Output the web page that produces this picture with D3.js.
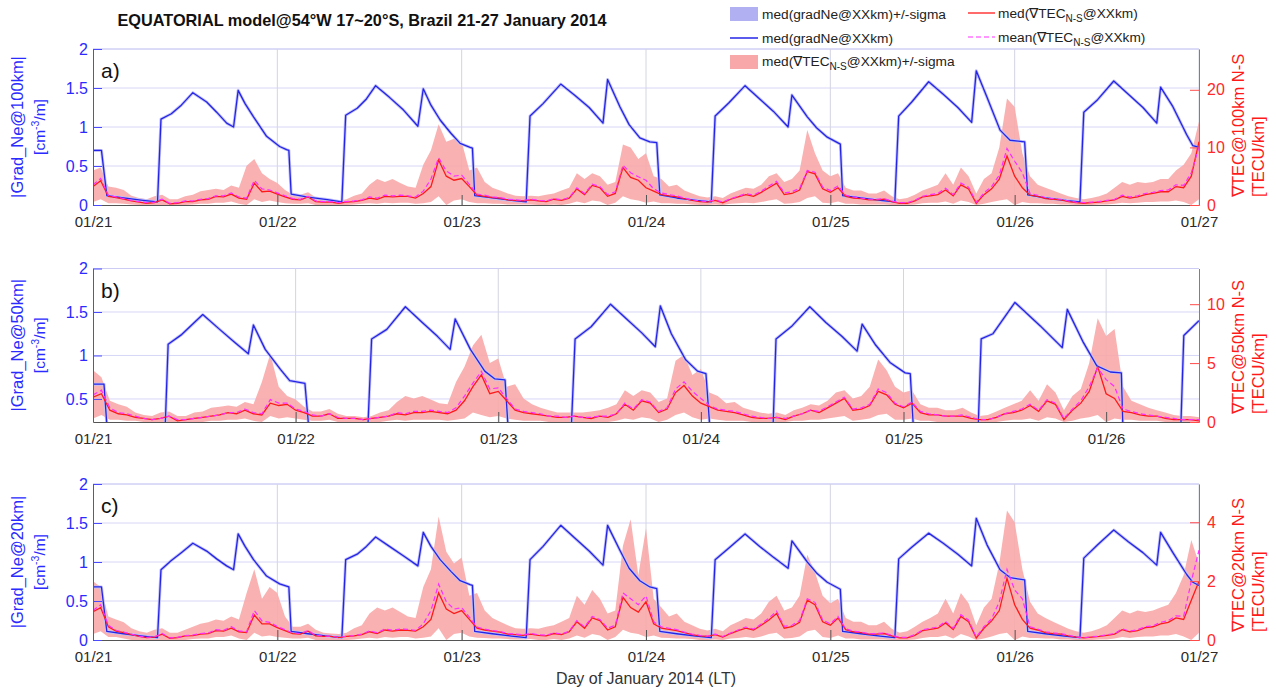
<!DOCTYPE html>
<html><head><meta charset="utf-8">
<script src="https://cdn.jsdelivr.net/npm/d3@7"></script>
<style>body{margin:0;background:#fff}svg{display:block}text{font-family:"Liberation Sans",Arial,sans-serif}</style>
</head><body><svg id="chart" width="1276" height="692"></svg>
<script>
// ---------- DATA ----------
const dayTicks = [0,24,48,72,96,120,144];           // hours since 01/21 00:00 LT
const dayLabels = ["01/21","01/22","01/23","01/24","01/25","01/26","01/27"];
const tecHoursAC = d3.range(0,145);                 // hourly samples, panels a & c
const tecHoursB = d3.range(0,132);                  // hourly samples, panel b

// median gradNe vertices [hour, value] (cm^-3/m)
const neHoursAC = [0,1.1,1.8,4,6.5,8.4,
 8.85,10.2,11.5,13.0,14.8,16.1,17.4,18.3,18.9,19.8,20.9,22.6,24.3,25.2,25.5,25.8,28,30.5,32.4,
 32.9,34.4,35.6,36.8,38.6,40.4,42.3,43.0,44.0,45.2,46.6,47.8,49.1,49.4,49.7,52,54.5,56.4,
 56.9,58.6,60.9,62.8,64.6,66.4,67.0,68.6,69.8,71.2,72.5,73.4,73.8,76,78.5,80.5,
 81.0,82.8,84.9,86.8,88.6,90.5,91.0,93.0,94.2,95.6,97.3,97.6,100,102.5,104.4,
 104.9,106.6,108.8,110.7,112.6,114.4,115.0,116.4,118.1,119.4,121.3,121.7,124,126.5,128.5,
 129.0,130.8,132.9,134.8,136.7,138.5,139.0,140.6,142.4,143.2,144];
const neValsA = [0.70,0.70,0.12,0.09,0.06,0.04,
 1.10,1.17,1.28,1.44,1.32,1.19,1.05,1.00,1.47,1.30,1.13,0.88,0.75,0.71,0.70,0.14,0.10,0.07,0.04,
 1.15,1.24,1.36,1.53,1.38,1.22,1.01,1.49,1.28,1.09,0.92,0.79,0.74,0.73,0.12,0.09,0.06,0.04,
 1.14,1.30,1.55,1.40,1.25,1.05,1.61,1.26,1.03,0.86,0.81,0.80,0.13,0.09,0.06,0.04,
 1.14,1.31,1.53,1.36,1.20,1.00,1.41,1.13,0.99,0.87,0.78,0.12,0.09,0.06,0.04,
 1.14,1.32,1.58,1.42,1.25,1.06,1.72,1.38,0.96,0.83,0.81,0.13,0.09,0.06,0.04,
 1.19,1.35,1.59,1.42,1.25,1.05,1.51,1.26,0.90,0.76,0.74];
const neValsC = [0.68,0.68,0.11,0.08,0.05,0.03,
 0.90,1.02,1.12,1.24,1.14,1.04,0.95,0.90,1.36,1.20,1.03,0.82,0.72,0.69,0.68,0.11,0.08,0.05,0.03,
 1.03,1.10,1.20,1.32,1.20,1.08,0.95,1.38,1.20,1.03,0.88,0.76,0.71,0.70,0.11,0.08,0.05,0.03,
 1.03,1.20,1.47,1.30,1.14,0.96,1.47,1.15,0.92,0.76,0.68,0.66,0.11,0.08,0.05,0.03,
 1.03,1.18,1.36,1.20,1.06,0.92,1.27,1.00,0.86,0.74,0.65,0.11,0.08,0.05,0.03,
 1.04,1.19,1.37,1.24,1.10,0.95,1.56,1.22,0.90,0.80,0.77,0.11,0.08,0.05,0.03,
 1.05,1.22,1.41,1.26,1.12,0.96,1.38,1.12,0.84,0.74,0.70];
const neHoursB = [0,1.3,1.7,4,6.5,8.5,
 8.9,10.5,13.0,15.0,16.8,18.4,19.0,20.4,22.2,23.3,25.1,25.6,28,30.5,32.5,
 33.0,34.8,37.0,39.0,40.8,42.3,42.9,44.7,46.4,47.6,48.8,49.2,52,54.5,56.6,
 57.1,59.0,61.3,63.2,65.0,66.6,67.2,68.5,70.2,71.6,72.6,73.1,76,78.5,80.5,
 80.9,82.8,84.9,86.8,88.7,90.5,91.1,92.7,94.4,96.2,96.8,97.2,100,102.5,104.8,
 105.2,106.6,109.2,112.2,114.8,115.4,117.3,118.9,120.5,121.8,122.0,124.5,127,128.8,
 129.2,131.0];
const neValsB = [0.67,0.67,0.12,0.09,0.06,0.04,
 1.13,1.24,1.47,1.30,1.15,1.02,1.35,1.07,0.84,0.71,0.68,0.12,0.09,0.06,0.04,
 1.19,1.30,1.56,1.38,1.22,1.07,1.42,1.07,0.82,0.73,0.72,0.12,0.09,0.06,0.04,
 1.19,1.33,1.59,1.42,1.26,1.10,1.57,1.25,0.95,0.82,0.79,0.12,0.09,0.06,0.04,
 1.19,1.34,1.56,1.38,1.22,1.05,1.36,1.12,0.92,0.80,0.79,0.12,0.09,0.06,0.04,
 1.19,1.25,1.61,1.34,1.09,1.53,1.15,0.88,0.81,0.80,0.12,0.09,0.06,0.04,
 1.23,1.40];

// TEC N-S gradient (TECU/km): median, mean, median+sigma, median-sigma
const tecMedA = [3.2,4.2,1.5,1.3,1.0,0.7,0.5,0.3,0.4,0.9,
 0.2,0.3,0.6,0.6,0.9,1.0,1.5,1.4,1.9,1.2,
 1.0,3.8,2.3,2.4,1.9,1.4,1.0,0.9,1.4,0.6,
 0.5,0.5,0.3,0.5,0.6,0.8,1.2,1.0,1.5,1.4,
 1.5,1.5,1.2,2.0,3.2,7.8,5.0,4.3,4.6,3.2,
 1.7,1.5,1.3,1.2,0.9,0.8,0.7,0.9,0.7,0.6,
 1.0,0.8,1.2,2.8,1.8,3.4,3.0,1.5,2.0,6.5,
 4.8,4.3,3.0,2.4,1.8,1.6,1.4,1.1,0.8,0.6,
 0.5,0.8,0.4,1.0,1.4,1.8,1.5,2.2,3.0,3.8,
 1.8,2.0,2.6,5.8,5.4,2.8,2.2,3.0,1.5,1.2,
 1.1,0.9,0.9,1.0,0.6,0.3,0.3,0.7,1.4,1.6,
 1.8,2.6,1.6,3.5,2.8,0.3,1.8,2.8,4.5,8.5,
 5.0,3.0,1.7,1.5,1.1,1.0,0.9,0.6,0.4,0.3,
 0.4,0.5,0.7,0.9,1.5,1.2,1.4,1.8,2.0,2.3,
 2.3,3.2,3.0,5.0,11.0];
const tecMeanA = [3.5,4.6,1.7,1.4,1.1,0.8,0.6,0.4,0.5,1.0,
 0.3,0.4,0.7,0.7,1.0,1.1,1.6,1.6,2.1,1.4,
 1.2,4.3,2.8,2.6,2.1,1.6,1.1,1.0,1.5,0.7,
 0.6,0.6,0.4,0.6,0.7,0.9,1.4,1.2,1.7,1.6,
 1.7,1.6,1.4,2.4,4.5,8.2,5.9,5.0,5.2,3.6,
 1.9,1.7,1.4,1.3,1.0,0.9,0.8,1.0,0.8,0.7,
 1.1,0.9,1.3,3.0,2.0,3.6,3.2,1.8,2.3,6.9,
 5.6,4.9,4.3,2.8,2.1,1.8,1.6,1.2,0.9,0.7,
 0.6,0.9,0.5,1.1,1.5,2.0,1.7,2.4,3.3,4.1,
 2.1,2.3,2.9,6.0,5.7,3.1,2.5,3.3,1.7,1.4,
 1.2,1.0,1.0,1.1,0.7,0.4,0.4,0.8,1.5,1.8,
 2.0,2.9,1.8,3.8,3.1,0.5,2.1,3.2,5.2,9.8,
 7.6,5.6,2.0,1.7,1.3,1.1,1.0,0.7,0.5,0.4,
 0.5,0.6,0.8,1.0,1.7,1.4,1.6,2.0,2.2,2.5,
 2.6,3.5,3.4,5.6,10.1];
const tecHiA = [6.0,6.5,3.2,3.0,2.6,1.6,1.2,1.0,1.5,1.8,
 1.0,1.0,1.5,1.8,2.4,2.6,2.8,2.6,3.4,3.0,
 6.8,8.0,5.5,4.5,3.8,2.6,1.8,1.8,2.2,1.3,
 1.0,0.9,0.8,1.0,1.6,2.0,3.5,4.5,4.0,4.5,
 3.8,3.2,3.0,7.0,9.5,14.0,11.0,11.5,11.0,6.0,
 6.5,4.0,3.0,2.5,2.0,1.6,1.5,1.6,1.5,1.8,
 2.0,2.5,3.0,5.5,4.5,5.5,5.0,3.5,4.0,10.5,
 10.0,8.0,9.0,5.0,4.5,3.2,3.5,2.5,2.0,1.5,
 1.3,1.5,1.2,2.0,2.5,3.0,2.8,3.5,5.0,5.5,
 4.0,4.5,6.0,13.0,9.0,6.0,5.0,5.5,3.0,2.5,
 2.5,2.0,2.0,2.5,1.5,1.0,1.2,1.8,2.5,3.0,
 3.5,5.5,3.5,6.5,5.0,2.0,4.5,5.5,10.0,18.5,
 17.0,9.0,5.0,3.5,3.0,2.5,2.0,1.5,1.2,1.0,
 1.2,1.5,2.0,3.0,4.0,3.5,4.0,3.8,4.0,4.5,
 4.5,6.0,7.0,9.0,14.5];
const tecLoA = [0.5,1.0,0.3,0.3,0.2,0.1,0,0,0,0,
 0,0,0,0.1,0.2,0.2,0.4,0.4,0.6,0.2,
 0,1.0,0.5,0.8,0.5,0.3,0.2,0.2,0.3,0,
 0,0,0,0,0.1,0.2,0.3,0.2,0.4,0.3,
 0.4,0.4,0.2,0.3,0.5,1.5,0,0.8,1.0,0.5,
 0.3,0.3,0.2,0.2,0.1,0.1,0.1,0.1,0,0,
 0.1,0,0.2,0.6,0.3,0.8,0.6,0,0.4,1.5,
 1.0,0.8,0.4,0.6,0.3,0.3,0.2,0.2,0.1,0,
 0,0.1,0,0.2,0.3,0.4,0.3,0.5,0.8,1.0,
 0.2,0.3,0.5,1.2,1.5,0.4,0.3,0.6,0.2,0.2,
 0.1,0.1,0.1,0.1,0,0,0,0.1,0.3,0.4,
 0.4,0.6,0.2,0.8,0.5,0,0.2,0.5,0.8,1.0,
 0,0.5,0.3,0.3,0.2,0.2,0.1,0.1,0,0,
 0,0.1,0.1,0.2,0.4,0.3,0.4,0.5,0.5,0.6,
 0.6,0.8,0.5,0,1.0];

const tecMedB = [2.1,2.4,1.0,0.7,0.6,0.4,0.3,0.2,0.3,0.5,
 0.1,0.2,0.3,0.4,0.5,0.6,0.8,0.7,1.0,0.7,
 0.6,1.6,1.4,1.5,1.0,0.8,0.5,0.5,0.7,0.3,
 0.3,0.3,0.2,0.3,0.4,0.5,0.7,0.6,0.8,0.8,
 0.9,0.8,0.7,1.0,1.8,3.0,4.0,2.4,2.6,1.8,
 1.0,0.8,0.7,0.6,0.5,0.4,0.4,0.5,0.4,0.3,
 0.5,0.4,0.7,1.5,1.0,1.8,1.6,0.8,1.1,2.5,
 3.1,2.2,1.6,1.3,1.0,0.9,0.8,0.6,0.4,0.3,
 0.3,0.4,0.2,0.5,0.7,1.0,0.8,1.2,1.6,2.0,
 1.0,1.1,1.4,2.6,2.3,1.5,1.2,1.6,0.8,0.6,
 0.6,0.5,0.5,0.5,0.3,0.2,0.2,0.4,0.7,0.8,
 1.0,1.4,0.9,1.8,1.5,0.2,1.0,1.6,2.6,4.7,
 2.4,2.0,0.9,0.8,0.6,0.5,0.5,0.3,0.2,0.2,
 0.2,0.1];
const tecMeanB = [2.3,2.7,1.2,0.8,0.7,0.5,0.3,0.2,0.3,0.5,
 0.2,0.2,0.3,0.4,0.5,0.6,0.8,0.8,1.1,0.8,
 0.7,1.9,1.6,1.6,1.1,0.9,0.6,0.5,0.7,0.4,
 0.3,0.3,0.2,0.3,0.4,0.5,0.8,0.7,0.9,0.9,
 1.0,0.9,0.8,1.2,2.2,3.3,4.3,2.8,2.9,2.0,
 1.1,0.9,0.8,0.7,0.5,0.5,0.4,0.5,0.4,0.4,
 0.5,0.5,0.7,1.6,1.1,1.9,1.7,0.9,1.2,2.8,
 3.4,2.6,2.0,1.4,1.1,1.0,0.9,0.7,0.5,0.4,
 0.3,0.4,0.3,0.5,0.7,1.0,0.9,1.3,1.7,2.1,
 1.1,1.2,1.5,2.8,2.5,1.6,1.3,1.7,0.9,0.7,
 0.6,0.5,0.5,0.6,0.4,0.2,0.2,0.4,0.7,0.9,
 1.1,1.5,1.0,1.9,1.6,0.3,1.1,1.8,3.0,4.6,
 3.6,3.0,1.1,0.9,0.7,0.6,0.5,0.4,0.3,0.2,
 0.2,0.2];
const tecHiB = [4.4,3.8,1.8,1.5,1.3,0.8,0.6,0.5,0.8,0.9,
 0.5,0.5,0.8,0.9,1.2,1.3,1.4,1.3,1.7,1.5,
 3.4,5.8,3.0,2.2,1.9,1.3,0.9,0.9,1.1,0.7,
 0.5,0.5,0.4,0.5,0.8,1.0,1.7,2.2,2.0,2.2,
 1.9,1.6,1.5,3.4,4.7,6.5,7.4,5.0,5.4,3.0,
 3.2,2.0,1.5,1.2,1.0,0.8,0.8,0.8,0.8,0.9,
 1.0,1.2,1.5,2.7,2.2,2.7,2.5,1.7,2.0,5.2,
 5.7,4.0,4.5,2.5,2.2,1.6,1.7,1.2,1.0,0.8,
 0.7,0.8,0.6,1.0,1.2,1.5,1.4,1.8,2.5,2.7,
 2.0,2.2,3.0,5.3,4.4,3.0,2.5,2.7,1.5,1.2,
 1.2,1.0,1.0,1.2,0.8,0.5,0.6,0.9,1.2,1.5,
 1.8,2.7,1.8,3.2,2.5,1.0,2.2,2.8,5.0,8.8,
 7.3,7.9,3.0,1.8,1.5,1.2,1.0,0.8,0.6,0.5,
 0.5,0.4];
const tecLoB = [0.3,0.6,0.2,0.2,0.1,0.1,0,0,0,0,
 0,0,0,0,0.1,0.1,0.2,0.2,0.3,0.1,
 0,0.5,0.3,0.4,0.3,0.2,0.1,0.1,0.2,0,
 0,0,0,0,0,0.1,0.2,0.1,0.2,0.2,
 0.2,0.2,0.1,0.2,0.3,0.8,0.6,0.4,0.5,0.3,
 0.2,0.1,0.1,0.1,0,0,0,0,0,0,
 0,0,0.1,0.3,0.2,0.4,0.3,0,0.2,0.6,
 0.8,0.4,0.2,0.3,0.2,0.1,0.1,0.1,0,0,
 0,0,0,0.1,0.1,0.2,0.2,0.3,0.4,0.5,
 0.1,0.2,0.3,0.6,0.7,0.2,0.2,0.3,0.1,0.1,
 0,0,0,0,0,0,0,0,0.1,0.2,
 0.2,0.3,0.1,0.4,0.3,0,0.1,0.3,0.4,0.6,
 0,0.3,0.2,0.2,0.1,0.1,0.1,0,0,0,
 0,0];

const tecMedC = [0.96,1.1,0.45,0.3,0.25,0.18,0.12,0.08,0.1,0.2,
 0.06,0.08,0.14,0.15,0.2,0.22,0.32,0.3,0.4,0.28,
 0.25,0.85,0.55,0.55,0.42,0.32,0.22,0.2,0.3,0.14,
 0.12,0.12,0.08,0.12,0.14,0.18,0.28,0.22,0.34,0.3,
 0.34,0.33,0.3,0.45,0.7,1.6,1.05,0.9,1.0,0.7,
 0.4,0.34,0.3,0.27,0.2,0.18,0.16,0.2,0.16,0.14,
 0.22,0.18,0.28,0.62,0.4,0.75,0.66,0.34,0.45,1.45,
 1.1,0.95,1.3,0.55,0.4,0.36,0.32,0.25,0.18,0.14,
 0.12,0.18,0.1,0.22,0.32,0.4,0.34,0.5,0.68,0.9,
 0.4,0.45,0.6,1.35,1.2,0.62,0.5,0.75,0.35,0.28,
 0.25,0.2,0.2,0.22,0.14,0.07,0.07,0.16,0.32,0.36,
 0.4,0.58,0.36,0.8,0.62,0.07,0.4,0.65,1.0,2.1,
 1.2,0.7,0.4,0.34,0.25,0.22,0.2,0.14,0.1,0.07,
 0.1,0.12,0.16,0.2,0.35,0.28,0.32,0.42,0.45,0.55,
 0.6,0.75,0.7,1.35,2.0];
const tecMeanC = [1.0,1.2,0.5,0.33,0.27,0.2,0.13,0.09,0.11,0.22,
 0.07,0.09,0.15,0.17,0.22,0.24,0.35,0.33,0.45,0.31,
 0.28,1.0,0.65,0.6,0.46,0.35,0.24,0.22,0.32,0.16,
 0.13,0.13,0.09,0.13,0.15,0.2,0.31,0.25,0.37,0.33,
 0.37,0.36,0.33,0.55,1.0,1.9,1.3,1.05,1.1,0.78,
 0.44,0.37,0.32,0.29,0.22,0.2,0.18,0.22,0.18,0.16,
 0.24,0.2,0.3,0.66,0.44,0.8,0.7,0.4,0.5,1.6,
 1.4,1.2,1.5,0.62,0.45,0.4,0.35,0.27,0.2,0.16,
 0.13,0.2,0.12,0.24,0.34,0.44,0.37,0.54,0.74,0.98,
 0.46,0.5,0.66,1.4,1.28,0.68,0.55,0.8,0.38,0.3,
 0.27,0.22,0.22,0.24,0.16,0.09,0.09,0.18,0.34,0.4,
 0.44,0.63,0.4,0.86,0.68,0.1,0.45,0.72,1.3,2.4,
 1.7,1.4,0.45,0.37,0.28,0.24,0.22,0.16,0.11,0.08,
 0.11,0.13,0.18,0.22,0.38,0.3,0.35,0.45,0.48,0.6,
 0.66,0.82,0.8,2.0,3.05];
const tecHiC = [2.0,1.8,0.8,0.7,0.6,0.4,0.3,0.25,0.35,0.4,
 0.25,0.25,0.35,0.45,0.55,0.6,0.7,0.65,0.8,0.7,
 1.6,2.4,1.4,1.8,1.6,0.8,0.45,0.45,0.55,0.35,
 0.25,0.22,0.2,0.25,0.4,0.5,0.9,1.1,1.0,1.1,
 0.95,0.8,0.75,1.8,2.4,4.2,3.0,2.6,2.8,1.5,
 1.6,1.0,0.75,0.62,0.5,0.4,0.38,0.4,0.38,0.45,
 0.5,0.62,0.75,1.5,1.2,1.7,1.4,0.9,1.0,3.2,
 4.1,2.2,3.8,1.4,1.1,0.8,0.9,0.62,0.5,0.38,
 0.32,0.38,0.3,0.5,0.62,0.75,0.7,0.9,1.3,1.5,
 1.0,1.1,1.5,2.9,2.3,1.5,1.25,1.4,0.75,0.62,
 0.62,0.5,0.5,0.62,0.38,0.25,0.3,0.45,0.62,0.75,
 0.9,1.4,0.9,1.6,1.25,0.5,1.1,1.4,2.6,4.4,
 4.0,2.4,1.3,0.9,0.75,0.62,0.5,0.38,0.3,0.25,
 0.3,0.38,0.5,0.75,1.0,0.9,1.0,0.95,1.0,1.1,
 1.2,1.6,2.2,3.4,2.6];
const tecLoC = [0.2,0.3,0.1,0.1,0.05,0,0,0,0,0,
 0,0,0,0.03,0.05,0.05,0.1,0.1,0.15,0.05,
 0,0.25,0.12,0.15,0.1,0.08,0.05,0.05,0.08,0,
 0,0,0,0,0.02,0.05,0.08,0.05,0.1,0.08,
 0.1,0.1,0.05,0.08,0.12,0.4,0,0.2,0.25,0.12,
 0.08,0.07,0.05,0.05,0.03,0.02,0.02,0.03,0,0,
 0.03,0,0.05,0.15,0.08,0.2,0.15,0,0.1,0.35,
 0.25,0.2,0.1,0.15,0.08,0.07,0.05,0.05,0.03,0,
 0,0.02,0,0.05,0.07,0.1,0.07,0.12,0.2,0.25,
 0.05,0.07,0.12,0.3,0.35,0.1,0.07,0.15,0.05,0.05,
 0.02,0.02,0.02,0.02,0,0,0,0.02,0.07,0.1,
 0.1,0.15,0.05,0.2,0.12,0,0.05,0.12,0.2,0.25,
 0,0.12,0.07,0.07,0.05,0.05,0.02,0.02,0,0,
 0,0.02,0.02,0.05,0.1,0.07,0.1,0.12,0.12,0.15,
 0.15,0.2,0.12,0,0.25];

// ---------- LAYOUT ----------
const svg = d3.select("#chart");
const X0 = 93, X1 = 1199;
const C_BLUE = "#2424e8", C_RED = "#ff1a1a", C_MAG = "#ff2cff", C_PINK = "#f8a8a8";

const panels = [
 {id:"a", top:49, bottom:205, xEnd:144, nTicks:7, yL:[0,2], tL:[0,0.5,1,1.5,2], yR:[0,27.08], tR:[0,10,20],
  lab:"|Grad_Ne@100km|", rlab:"\u2207TEC@100km N-S",
  ne:neHoursAC.map((h,i)=>[h,neValsA[i]]), th:tecHoursAC, med:tecMedA, mean:tecMeanA, hi:tecHiA, lo:tecLoA},
 {id:"b", top:268.5, bottom:422, xEnd:131.0, nTicks:6, yL:[0.235,2], tL:[0.5,1,1.5,2], yR:[0,13.03], tR:[0,5,10],
  lab:"|Grad_Ne@50km|", rlab:"\u2207TEC@50km N-S",
  ne:neHoursB.map((h,i)=>[h,neValsB[i]]), th:tecHoursB, med:tecMedB, mean:tecMeanB, hi:tecHiB, lo:tecLoB},
 {id:"c", top:484, bottom:640, xEnd:144, nTicks:7, yL:[0,2], tL:[0,0.5,1,1.5,2], yR:[0,5.3], tR:[0,2,4],
  lab:"|Grad_Ne@20km|", rlab:"\u2207TEC@20km N-S",
  ne:neHoursAC.map((h,i)=>[h,neValsC[i]]), th:tecHoursAC, med:tecMedC, mean:tecMeanC, hi:tecHiC, lo:tecLoC}
];

const defs = svg.append("defs");

panels.forEach(p => {
  const x = d3.scaleLinear().domain([0,p.xEnd]).range([X0,X1]);
  const yL = d3.scaleLinear().domain(p.yL).range([p.bottom,p.top]);
  const yR = d3.scaleLinear().domain(p.yR).range([p.bottom,p.top]);
  const g = svg.append("g");
  defs.append("clipPath").attr("id","clip"+p.id).append("rect")
    .attr("x",X0).attr("y",p.top).attr("width",X1-X0).attr("height",p.bottom-p.top);

  // grid
  g.selectAll(".hg").data(p.tL.filter(v=>v>p.yL[0])).join("line")
    .attr("x1",X0).attr("x2",X1).attr("y1",d=>yL(d)).attr("y2",d=>yL(d))
    .attr("stroke","#d6d6f8").attr("stroke-width",1);
  g.append("line").attr("x1",X0).attr("x2",X1).attr("y1",p.top).attr("y2",p.top)
    .attr("stroke","#ccccf4").attr("stroke-width",1);
  const xt = dayTicks.slice(0,p.nTicks);
  g.selectAll(".vg").data(xt.slice(1)).join("line")
    .attr("x1",d=>x(d)).attr("x2",d=>x(d)).attr("y1",p.top).attr("y2",p.bottom)
    .attr("stroke","#d4d4e2").attr("stroke-width",1);

  const plot = g.append("g").attr("clip-path",`url(#clip${p.id})`);
  const tec = p.th.map((h,i)=>({h, med:p.med[i], mean:p.mean[i], hi:p.hi[i], lo:p.lo[i]}));
  plot.append("path").datum(tec)
    .attr("d", d3.area().x(d=>x(d.h)).y0(d=>yR(d.lo)).y1(d=>yR(d.hi)))
    .attr("fill",C_PINK).attr("opacity",0.9);
  const neLine = d3.line().x(d=>x(d[0])).y(d=>yL(d[1]));
  plot.append("path").datum(p.ne).attr("d",neLine)
    .attr("fill","none").attr("stroke","#c2c2f6").attr("stroke-width",3).attr("stroke-linejoin","round");
  plot.append("path").datum(p.ne).attr("d",neLine)
    .attr("fill","none").attr("stroke",C_BLUE).attr("stroke-width",1.3).attr("stroke-linejoin","round");
  plot.append("path").datum(tec)
    .attr("d", d3.line().x(d=>x(d.h)).y(d=>yR(d.med)))
    .attr("fill","none").attr("stroke",C_RED).attr("stroke-width",1.3);
  plot.append("path").datum(tec)
    .attr("d", d3.line().x(d=>x(d.h)).y(d=>yR(d.mean)))
    .attr("fill","none").attr("stroke",C_MAG).attr("stroke-width",1.2).attr("stroke-dasharray","5,3");

  // bottom axis
  const ax = g.append("g").attr("transform",`translate(0,${p.bottom})`)
    .call(d3.axisBottom(x).tickValues(xt).tickFormat((d,i)=>dayLabels[i]).tickSize(-10).tickSizeOuter(0).tickPadding(11));
  ax.select(".domain").attr("stroke","#555");
  ax.selectAll(".tick line").attr("stroke","#555");
  ax.selectAll("text").attr("font-size",15).attr("fill","#2a2a2a").attr("font-family","Liberation Sans, Arial, sans-serif");

  // left axis
  const al = g.append("g").attr("transform",`translate(${X0},0)`)
    .call(d3.axisLeft(yL).tickValues(p.tL).tickFormat(d=>String(d)).tickSize(-9).tickSizeOuter(0).tickPadding(5));
  al.select(".domain").attr("stroke","#4a4aff");
  al.selectAll(".tick line").attr("stroke","#4a4aff");
  al.selectAll("text").attr("font-size",16).attr("fill","#2b2bff").attr("font-family","Liberation Sans, Arial, sans-serif");

  // right axis
  const ar = g.append("g").attr("transform",`translate(${X1},0)`)
    .call(d3.axisRight(yR).tickValues(p.tR).tickFormat(d=>String(d)).tickSize(-9).tickSizeOuter(0).tickPadding(8));
  ar.select(".domain").attr("stroke","#ff4a4a");
  ar.selectAll(".tick line").attr("stroke","#ff4a4a");
  ar.selectAll("text").attr("font-size",16).attr("fill","#ff2a2a").attr("font-family","Liberation Sans, Arial, sans-serif");

  const mid = (p.top+p.bottom)/2;
  // left labels
  svg.append("text").attr("transform",`translate(23,${mid}) rotate(-90)`).attr("text-anchor","middle")
    .attr("font-size",16.5).attr("fill","#2b2bff").text(p.lab);
  const l2 = svg.append("text").attr("transform",`translate(45,${mid}) rotate(-90)`).attr("text-anchor","middle")
    .attr("font-size",15.5).attr("fill","#2b2bff");
  l2.append("tspan").text("[cm");
  l2.append("tspan").attr("dy",-6).attr("font-size",10.5).text("-3");
  l2.append("tspan").attr("dy",6).text("/m]");
  // right labels
  svg.append("text").attr("transform",`translate(1244,${p.bottom-8}) rotate(-90)`).attr("text-anchor","start")
    .attr("font-size",16.5).attr("fill","#ff1a1a").text(p.rlab);
  svg.append("text").attr("transform",`translate(1264,${p.bottom-8}) rotate(-90)`).attr("text-anchor","start")
    .attr("font-size",16.5).attr("fill","#ff1a1a").text("[TECU/km]");
  // panel tag
  svg.append("text").attr("x",101).attr("y",p.top+29).attr("font-size",21).attr("fill","#111").text(p.id+")");
});

// title
svg.append("text").attr("x",362).attr("y",26).attr("text-anchor","middle")
  .attr("font-size",16.3).attr("font-weight","bold").attr("fill","#111")
  .text("EQUATORIAL model@54\u00b0W 17~20\u00b0S, Brazil 21-27 January 2014");

// x label
svg.append("text").attr("x",646).attr("y",684).attr("text-anchor","middle")
  .attr("font-size",16).attr("fill","#333").text("Day of January 2014 (LT)");

// legend
const lg = svg.append("g").attr("font-size",13.7).attr("fill","#222");
lg.append("rect").attr("x",730).attr("y",7).attr("width",28).attr("height",14).attr("fill","#b0b0f2");
lg.append("text").attr("x",762).attr("y",19).text("med(gradNe@XXkm)+/-sigma");
lg.append("line").attr("x1",730).attr("x2",758).attr("y1",38).attr("y2",38).attr("stroke",C_BLUE).attr("stroke-width",1.5);
lg.append("text").attr("x",762).attr("y",43).text("med(gradNe@XXkm)");
lg.append("rect").attr("x",730).attr("y",55).attr("width",28).attr("height",14).attr("fill",C_PINK);
function tecText(xp, yp, pre, post){
  const t = lg.append("text").attr("x",xp).attr("y",yp);
  t.append("tspan").text(pre+"\u2207TEC");
  t.append("tspan").attr("dy",4).attr("font-size",10).text("N-S");
  t.append("tspan").attr("dy",-4).text(post);
}
tecText(762, 66, "med(", "@XXkm)+/-sigma");
lg.append("line").attr("x1",968).attr("x2",995).attr("y1",13).attr("y2",13).attr("stroke",C_RED).attr("stroke-width",1.3);
tecText(998, 18, "med(", "@XXkm)");
lg.append("line").attr("x1",968).attr("x2",995).attr("y1",37).attr("y2",37).attr("stroke",C_MAG).attr("stroke-width",1.2).attr("stroke-dasharray","5,3");
tecText(998, 42, "mean(", "@XXkm)");
</script></body></html>
